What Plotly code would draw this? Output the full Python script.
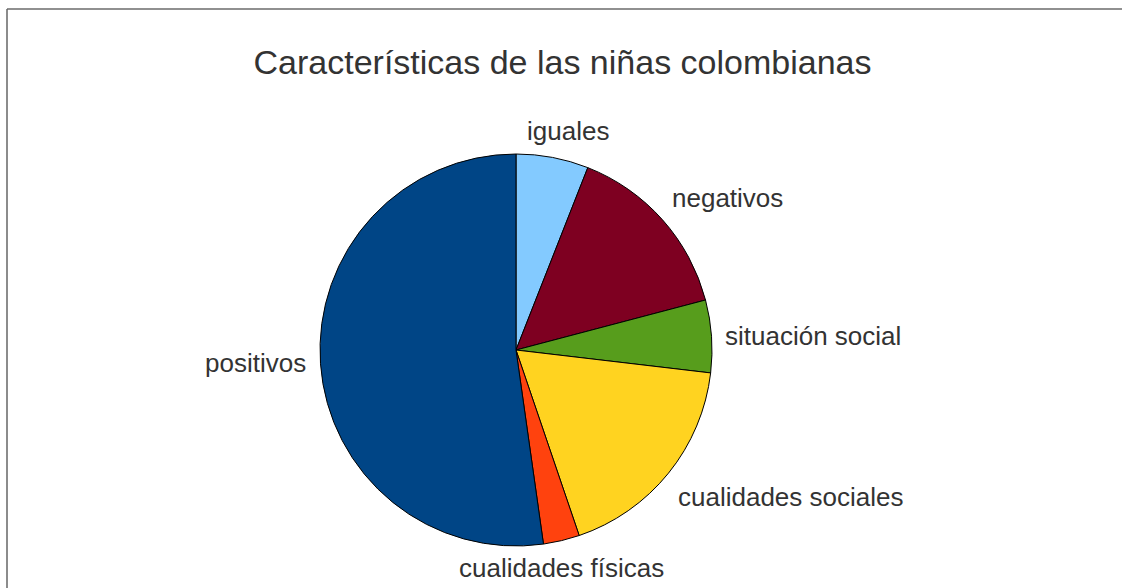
import plotly.graph_objects as go

# Data
categories = ["iguales", "negativos", "situación social", "cualidades sociales",
              "cualidades físicas", "positivos"]
values = [4, 10, 4, 12, 2, 35]
title_text = "Características de las niñas colombianas"

# Styling / layout (page pixels; body margin removed in post_script)
colors = ["#83caff", "#7e0021", "#579d1c", "#ffd320", "#ff420e", "#004586"]
W, H = 1122, 588
cx, cy, r = 516, 350, 196
# label centers in page pixels (layout)
label_pos = [(568, 131), (727, 198), (813, 336), (790, 497), (561, 568), (256, 363)]

fig = go.Figure(go.Pie(
    labels=categories,
    values=values,
    sort=False,
    direction="clockwise",
    rotation=0,
    marker=dict(colors=colors, line=dict(color="#000000", width=1)),
    textinfo="none",
    hoverinfo="label+value+percent",
    showlegend=False,
    domain=dict(x=[(cx - r) / W, (cx + r) / W], y=[1 - (cy + r) / H, 1 - (cy - r) / H]),
))

annotations = []
for name, (px, py) in zip(categories, label_pos):
    annotations.append(dict(
        text=name, x=px / W, y=1 - py / H, xref="paper", yref="paper",
        xanchor="center", yanchor="middle", showarrow=False,
        font=dict(family="Liberation Sans, Arial, sans-serif", size=26, color="#333333"),
    ))

fig.update_layout(
    width=W, height=H,
    margin=dict(l=0, r=0, t=0, b=0),
    paper_bgcolor="white",
    plot_bgcolor="white",
    title=dict(text=title_text, x=562.5 / W, xanchor="center",
               y=1 - 62 / H, yanchor="middle", yref="container",
               font=dict(family="Liberation Sans, Arial, sans-serif", size=34, color="#333333")),
    annotations=annotations,
    shapes=[
        dict(type="line", xref="paper", yref="paper", x0=7 / W, x1=1.0,
             y0=1 - 9 / H, y1=1 - 9 / H,
             line=dict(color="#222222", width=1.2)),
        dict(type="line", xref="paper", yref="paper", x0=7 / W, x1=7 / W,
             y0=1 - 9 / H, y1=0,
             line=dict(color="#666666", width=1.5)),
    ],
)

fig.write_html("out.html", config={"displayModeBar": False},
               post_script="document.body.style.margin='0';"
                           "document.body.style.overflow='hidden';")
